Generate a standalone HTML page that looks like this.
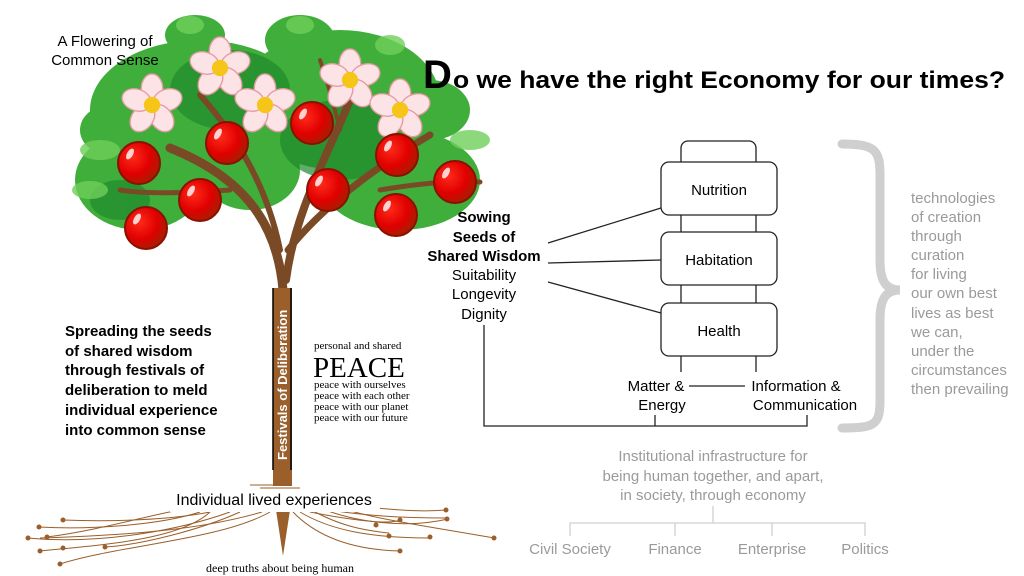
<!DOCTYPE html>
<html><head><meta charset="utf-8"><style>
body{margin:0;background:#fff}
svg{display:block}
.s{font-family:"Liberation Sans",sans-serif}
.f{font-family:"Liberation Serif",serif}
</style></head><body>
<svg width="1024" height="576" viewBox="0 0 1024 576" xmlns="http://www.w3.org/2000/svg">
<defs>
<radialGradient id="ap" cx="0.35" cy="0.35" r="0.7"><stop offset="0" stop-color="#ff2a1a"/><stop offset="0.6" stop-color="#e00000"/><stop offset="1" stop-color="#a52000"/></radialGradient>
<g id="apple"><circle r="21" fill="url(#ap)" stroke="#8a1000" stroke-width="2"/><ellipse cx="-9" cy="-9" rx="3" ry="6" fill="#fff" opacity="0.8" transform="rotate(30 -9 -9)"/></g>
<g id="flower" transform="scale(1.35)">
<g fill="#fbe3e6" stroke="#e59aa2" stroke-width="1">
<ellipse cx="0" cy="-12" rx="8" ry="11"/>
<ellipse cx="0" cy="-12" rx="8" ry="11" transform="rotate(72)"/>
<ellipse cx="0" cy="-12" rx="8" ry="11" transform="rotate(144)"/>
<ellipse cx="0" cy="-12" rx="8" ry="11" transform="rotate(216)"/>
<ellipse cx="0" cy="-12" rx="8" ry="11" transform="rotate(288)"/>
</g><circle r="6" fill="#f5c518"/></g>
</defs>

<g fill="#3fae3a">
<ellipse cx="200" cy="110" rx="110" ry="70"/>
<ellipse cx="340" cy="100" rx="100" ry="70"/>
<ellipse cx="140" cy="180" rx="65" ry="50"/>
<ellipse cx="400" cy="180" rx="80" ry="50"/>
<ellipse cx="300" cy="40" rx="35" ry="25"/>
<ellipse cx="195" cy="35" rx="30" ry="20"/>
<ellipse cx="250" cy="170" rx="50" ry="40"/>
<ellipse cx="430" cy="110" rx="40" ry="30"/>
<ellipse cx="110" cy="130" rx="30" ry="25"/>
</g>
<g fill="#1f8a2c" opacity="0.7">
<ellipse cx="230" cy="90" rx="60" ry="40"/>
<ellipse cx="340" cy="140" rx="60" ry="40"/>
<ellipse cx="120" cy="200" rx="30" ry="20"/>
</g>
<g fill="#6fcf5a" opacity="0.8">
<ellipse cx="100" cy="150" rx="20" ry="10"/>
<ellipse cx="90" cy="190" rx="18" ry="9"/>
<ellipse cx="470" cy="140" rx="20" ry="10"/>
<ellipse cx="300" cy="25" rx="14" ry="9"/>
<ellipse cx="190" cy="25" rx="14" ry="9"/>
<ellipse cx="390" cy="45" rx="15" ry="10"/>
</g>
<g stroke="#7a4a26" fill="none" stroke-linecap="round">
<path d="M283 290 C278 230 250 180 170 148" stroke-width="9"/>
<path d="M280 250 C268 190 240 140 200 95" stroke-width="6"/>
<path d="M286 280 C295 210 330 150 350 100" stroke-width="8"/>
<path d="M288 250 C320 210 370 170 430 135" stroke-width="7"/>
<path d="M230 190 C200 192 150 195 120 190" stroke-width="5"/>
<path d="M380 190 C410 185 450 180 480 182" stroke-width="5"/>
<path d="M320 60 C330 90 335 110 340 130" stroke-width="4"/>
</g>
<use href="#flower" x="220" y="68"/>
<use href="#flower" x="152" y="105"/>
<use href="#flower" x="265" y="105"/>
<use href="#flower" x="350" y="80"/>
<use href="#flower" x="400" y="110"/>
<use href="#apple" x="139" y="163"/>
<use href="#apple" x="200" y="200"/>
<use href="#apple" x="227" y="143"/>
<use href="#apple" x="146" y="228"/>
<use href="#apple" x="312" y="123"/>
<use href="#apple" x="328" y="190"/>
<use href="#apple" x="397" y="155"/>
<use href="#apple" x="396" y="215"/>
<use href="#apple" x="455" y="182"/>

<rect x="273" y="288" width="19" height="198" fill="#9a5f2a"/>
<line x1="273" y1="288" x2="273" y2="470" stroke="#000" stroke-width="1.5"/>
<line x1="291" y1="288" x2="291" y2="470" stroke="#000" stroke-width="1.5"/>
<text class="s" transform="translate(287 460) rotate(-90)" font-size="13" font-weight="bold" fill="#fff">Festivals of Deliberation</text>
<path d="M276 510 L283 556 L290 510 Z" fill="#9a5f2a"/>
<g stroke="#9a5f2a" fill="none" stroke-width="1">
<path d="M250 485 L290 485 M260 488 L300 488"/>
<path d="M270 512 C220 540 120 545 60 564"/>
<path d="M262 512 C200 530 130 535 40 538"/>
<path d="M230 512 C180 530 100 545 28 538"/>
<path d="M210 512 C170 520 110 522 63 520"/>
<path d="M200 512 C160 525 90 530 39 527"/>
<path d="M180 510 C150 515 100 530 47 537"/>
<path d="M240 512 C200 530 140 545 105 547"/>
<path d="M210 512 C180 540 100 545 40 551"/>
<path d="M293 512 C320 540 360 550 400 551"/>
<path d="M300 512 C330 530 370 538 430 538"/>
<path d="M310 512 C350 520 390 525 400 520"/>
<path d="M320 508 C350 520 400 530 448 519"/>
<path d="M330 510 C360 515 400 518 447 518"/>
<path d="M340 508 C380 520 420 525 494 538"/>
<path d="M375 508 C400 510 420 512 446 510"/>
<path d="M315 512 C340 525 360 530 389 533"/>
</g>
<g fill="#9a5f2a">
<circle cx="63" cy="520" r="2.5"/><circle cx="39" cy="527" r="2.5"/><circle cx="28" cy="538" r="2.5"/><circle cx="47" cy="537" r="2.5"/><circle cx="40" cy="551" r="2.5"/><circle cx="63" cy="548" r="2.5"/><circle cx="105" cy="547" r="2.5"/><circle cx="60" cy="564" r="2.5"/>
<circle cx="400" cy="551" r="2.5"/><circle cx="430" cy="537" r="2.5"/><circle cx="400" cy="520" r="2.5"/><circle cx="447" cy="519" r="2.5"/><circle cx="446" cy="510" r="2.5"/><circle cx="494" cy="538" r="2.5"/><circle cx="389" cy="536" r="2.5"/><circle cx="376" cy="525" r="2.5"/>
</g>
<rect x="170" y="490" width="210" height="22" fill="#fff"/>
<text class="s" x="274" y="505" font-size="16" text-anchor="middle">Individual lived experiences</text>
<text class="f" x="280" y="572" font-size="12" text-anchor="middle">deep truths about being human</text>

<text class="s" font-size="15" text-anchor="middle"><tspan x="105" y="46">A Flowering of</tspan><tspan x="105" y="65">Common Sense</tspan></text>
<text class="s" font-size="15" font-weight="bold"><tspan x="65" y="336">Spreading the seeds</tspan><tspan x="65" y="356">of shared wisdom</tspan><tspan x="65" y="375">through festivals of</tspan><tspan x="65" y="395">deliberation to meld</tspan><tspan x="65" y="415">individual experience</tspan><tspan x="65" y="435">into common sense</tspan></text>
<text class="f" font-size="11" x="314" y="349">personal and shared</text>
<text class="f" font-size="29" x="313" y="377">PEACE</text>
<text class="f" font-size="11"><tspan x="314" y="388">peace with ourselves</tspan><tspan x="314" y="399">peace with each other</tspan><tspan x="314" y="410">peace with our planet</tspan><tspan x="314" y="421">peace with our future</tspan></text>

<text class="s" font-weight="bold" y="88"><tspan x="423" font-size="40">D</tspan><tspan x="453" font-size="24" textLength="552" lengthAdjust="spacingAndGlyphs">o we have the right Economy for our times?</tspan></text>

<g fill="none" stroke="#222" stroke-width="1.3">
<path d="M681 162 V148 a7 7 0 0 1 7 -7 H749 a7 7 0 0 1 7 7 V162"/>
<rect x="661" y="162" width="116" height="53" rx="8" fill="#fff"/>
<rect x="661" y="232" width="116" height="53" rx="8" fill="#fff"/>
<rect x="661" y="303" width="116" height="53" rx="8" fill="#fff"/>
<path d="M681 215V232 M756 215V232 M681 285V303 M756 285V303 M681 356V372 M756 356V372"/>
<path d="M689 386H745"/>
<path d="M548 243L661 208 M548 263L661 260 M548 282L661 313"/>
<path d="M484 325V426H807V415 M655 426V415"/>
</g>
<g class="s" font-size="15" text-anchor="middle">
<text x="719" y="195">Nutrition</text>
<text x="719" y="265">Habitation</text>
<text x="719" y="336">Health</text>
<text x="656" y="391">Matter &amp;</text>
<text x="662" y="410">Energy</text>
<text x="796" y="391">Information &amp;</text>
<text x="805" y="410">Communication</text>
<text x="484" y="222" font-weight="bold">Sowing</text>
<text x="484" y="242" font-weight="bold">Seeds of</text>
<text x="484" y="261" font-weight="bold">Shared Wisdom</text>
<text x="484" y="280">Suitability</text>
<text x="484" y="299">Longevity</text>
<text x="484" y="319">Dignity</text>
</g>

<path d="M842 144 C875 144 880 150 880 175 V260 C880 280 885 290 900 290 C885 290 880 300 880 320 V400 C880 425 875 428 842 428" fill="none" stroke="#cfcfcf" stroke-width="9" stroke-linecap="round"/>
<text class="s" font-size="15" fill="#9a9a9a"><tspan x="911" y="203">technologies</tspan><tspan x="911" y="222">of creation</tspan><tspan x="911" y="241">through</tspan><tspan x="911" y="260">curation</tspan><tspan x="911" y="279">for living</tspan><tspan x="911" y="298">our own best</tspan><tspan x="911" y="318">lives as best</tspan><tspan x="911" y="337">we can,</tspan><tspan x="911" y="356">under the</tspan><tspan x="911" y="375">circumstances</tspan><tspan x="911" y="394">then prevailing</tspan></text>

<text class="s" font-size="15" fill="#9a9a9a" text-anchor="middle"><tspan x="713" y="461">Institutional infrastructure for</tspan><tspan x="713" y="481">being human together, and apart,</tspan><tspan x="713" y="500">in society, through economy</tspan></text>
<path d="M713 506V523 M570 536V523H865V536 M675 523V536 M772 523V536" fill="none" stroke="#d0d0d0" stroke-width="1.3"/>
<g class="s" font-size="15" fill="#9a9a9a" text-anchor="middle">
<text x="570" y="554">Civil Society</text><text x="675" y="554">Finance</text><text x="772" y="554">Enterprise</text><text x="865" y="554">Politics</text>
</g>
</svg>
</body></html>
